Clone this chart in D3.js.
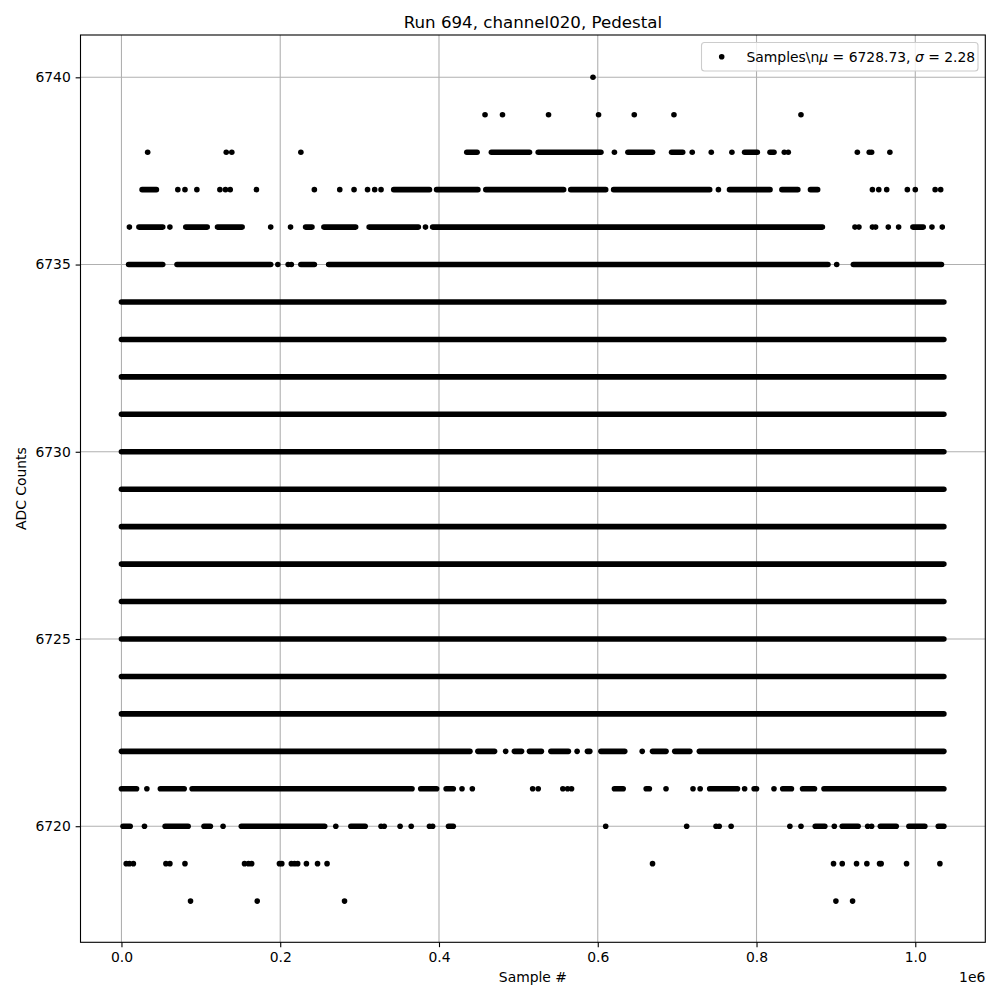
<!DOCTYPE html>
<html>
<head>
<meta charset="utf-8">
<script src="https://cdn.jsdelivr.net/npm/d3@7"></script>
<style>
  html, body { margin: 0; padding: 0; background: #fff; }
  svg { display: block; }
  text { font-family: "DejaVu Sans", sans-serif; }
</style>
</head>
<body>
<svg id="chart" width="1000" height="1000"></svg>
<script>
// ---------------- DATA ----------------
// Sample positions are in thousands of samples.
// A number is a single sample; a pair [a, b] is a stretch where samples at that ADC value are continuous.
const titleText = "Run 694, channel020, Pedestal";
const xLabel = "Sample #";
const yLabel = "ADC Counts";
const xTickValues = [0, 200000, 400000, 600000, 800000, 1000000];
const xTickLabels = ["0.0", "0.2", "0.4", "0.6", "0.8", "1.0"];
const xOffsetLabel = "1e6";
const yTickValues = [6720, 6725, 6730, 6735, 6740];
const legendMu = "6728.73";
const legendSigma = "2.28";

const adc6740 = [594];
const adc6739 = [458, 480, 538, 601, 646, 696, 856];
const adc6738 = [33, 132, 139, 226, [435, 448], [466, 514], [525, 604], 621, [638, 669], [693, 707], 719, 743, 769,
                 [785, 801], [817, 822], 835, 840, 927, 942, 945, 968];
const adc6737 = [[26, 44], 71, 80, 95, 124, 131, 137, 170, 243, 275, 293, 310, 319, 327, [343, 388], [397, 449],
                 [459, 557], [566, 610], [620, 741], 752, [766, 817], [832, 852], [868, 877], 946, 954, 964, 990, 1000, 1025, 1032];
const adc6736 = [10, [22, 52], 61, [81, 108], [121, 152], 188, 213, [232, 240], [255, 295], [312, 374], 383, [392, 883],
                 924, 929, 946, 950, 966, 979, [997, 1010], 1021, 1034];
const adc6735 = [[9, 52], [70, 188], 197, 210, 214, [226, 243], [261, 890], 901, [922, 1033]];
const adc6734 = [[0, 1036]];
const adc6733 = [[0, 1036]];
const adc6732 = [[0, 1036]];
const adc6731 = [[0, 1036]];
const adc6730 = [[0, 1036]];
const adc6729 = [[0, 1036]];
const adc6728 = [[0, 1036]];
const adc6727 = [[0, 1036]];
const adc6726 = [[0, 1036]];
const adc6725 = [[0, 1036]];
const adc6724 = [[0, 1036]];
const adc6723 = [[0, 1036]];
const adc6722 = [[0, 439], [449, 470], 484, [495, 504], [514, 529], [541, 563], 574, [587, 590], [604, 634], 656,
                 [669, 686], [697, 716], [728, 1036]];
const adc6721 = [[0, 19], 32, [49, 79], [89, 366], [377, 397], [409, 418], 429, 442, 518, 525, 556, 562, 567, [621, 632],
                 [661, 665], 686, 720, 729, [741, 776], 785, [797, 800], 822, [833, 844], [858, 873], [885, 1036]];
const adc6720 = [[2, 11], 29, [55, 84], [104, 112], 128, [151, 256], 270, [289, 307], 327, 331, 351, 365, 388, 392,
                 [412, 418], 610, 712, 749, 753, 768, 842, 856, [874, 886], 898, [908, 928], 940, 945, [956, 976],
                 [992, 1012], [1029, 1036]];
const adc6719 = [6, 10, 15, 56, 61, 80, 155, 160, 164, 199, 202, 214, 218, 222, 233, 247, 259, 669, 897, 908, 926, 939,
                 955, 957, 989, 1031];
const adc6718 = [87, 171, 281, 900, 921];

const levelTable = [
  [6718, adc6718], [6719, adc6719], [6720, adc6720], [6721, adc6721], [6722, adc6722], [6723, adc6723],
  [6724, adc6724], [6725, adc6725], [6726, adc6726], [6727, adc6727], [6728, adc6728], [6729, adc6729],
  [6730, adc6730], [6731, adc6731], [6732, adc6732], [6733, adc6733], [6734, adc6734], [6735, adc6735],
  [6736, adc6736], [6737, adc6737], [6738, adc6738], [6739, adc6739], [6740, adc6740]
];

// ---------------- LAYOUT ----------------
const L = 80.5, R = 985.3, T = 35, B = 942.3;
const fontTick = 13.9;
const markerR = 2.8;

const svg = d3.select("#chart");
svg.append("rect").attr("width", 1000).attr("height", 1000).attr("fill", "#fff");

const x = d3.scaleLinear().domain([-51600, 1088200]).range([L, R]);
const y = d3.scaleLinear().domain([6716.9, 6741.13]).range([B, T]);

// grid
const grid = svg.append("g");
grid.selectAll("line.gx").data(xTickValues).join("line")
  .attr("x1", d => x(d)).attr("x2", d => x(d)).attr("y1", T).attr("y2", B)
  .attr("stroke", "#b0b0b0").attr("stroke-width", 1.1);
grid.selectAll("line.gy").data(yTickValues).join("line")
  .attr("y1", d => y(d)).attr("y2", d => y(d)).attr("x1", L).attr("x2", R)
  .attr("stroke", "#b0b0b0").attr("stroke-width", 1.1);

// points
const marks = svg.append("g");
levelTable.forEach(([lvl, items]) => {
  const yy = y(lvl);
  items.forEach(it => {
    if (Array.isArray(it)) {
      marks.append("line")
        .attr("x1", x(it[0] * 1000)).attr("x2", x(it[1] * 1000))
        .attr("y1", yy).attr("y2", yy)
        .attr("stroke", "#000").attr("stroke-width", markerR * 2).attr("stroke-linecap", "round");
    } else {
      marks.append("circle").attr("cx", x(it * 1000)).attr("cy", yy).attr("r", markerR).attr("fill", "#000");
    }
  });
});

// axes
const xAxis = d3.axisBottom(x).tickValues(xTickValues)
  .tickFormat((d, i) => xTickLabels[i]).tickSize(4.86).tickPadding(4.86);
const gx = svg.append("g").attr("transform", `translate(0,${B})`).call(xAxis);
const yAxis = d3.axisLeft(y).tickValues(yTickValues).tickFormat(d3.format("d")).tickSize(4.86).tickPadding(4.86);
const gy = svg.append("g").attr("transform", `translate(${L},0)`).call(yAxis);
[gx, gy].forEach(g => {
  g.select(".domain").remove();
  g.selectAll(".tick line").attr("stroke", "#000").attr("stroke-width", 1.1);
  g.selectAll(".tick text").attr("fill", "#000")
    .style("font-family", "'DejaVu Sans', sans-serif").style("font-size", fontTick + "px");
});

// spines
svg.append("rect").attr("x", L).attr("y", T).attr("width", R - L).attr("height", B - T)
  .attr("fill", "none").attr("stroke", "#000").attr("stroke-width", 1.1);

// offset label
svg.append("text").attr("x", R).attr("y", 981.5).attr("text-anchor", "end")
  .style("font-size", fontTick + "px").text(xOffsetLabel);

// axis labels
svg.append("text").attr("x", (L + R) / 2).attr("y", 981.5).attr("text-anchor", "middle")
  .style("font-size", fontTick + "px").text(xLabel);
svg.append("text").attr("transform", `translate(25.5,${(T + B) / 2}) rotate(-90)`).attr("text-anchor", "middle")
  .style("font-size", fontTick + "px").text(yLabel);

// title
svg.append("text").attr("x", (L + R) / 2).attr("y", 27.5).attr("text-anchor", "middle")
  .style("font-size", "16.67px").text(titleText);

// legend
const lg = svg.append("g");
lg.append("rect").attr("x", 701.5).attr("y", 42.5).attr("width", 276.5).attr("height", 28.5).attr("rx", 3)
  .attr("fill", "#fff").attr("fill-opacity", 0.8).attr("stroke", "#cccccc").attr("stroke-width", 1.1);
lg.append("circle").attr("cx", 721.7).attr("cy", 56.7).attr("r", markerR).attr("fill", "#000");
const lt = lg.append("text").attr("x", 746.5).attr("y", 61.6).style("font-size", fontTick + "px");
lt.append("tspan").text("Samples\\n");
lt.append("tspan").style("font-style", "italic").text("\u03bc");
lt.append("tspan").text(" = " + legendMu + ", ");
lt.append("tspan").style("font-style", "italic").text("\u03c3");
lt.append("tspan").text(" = " + legendSigma);
</script>
</body>
</html>
